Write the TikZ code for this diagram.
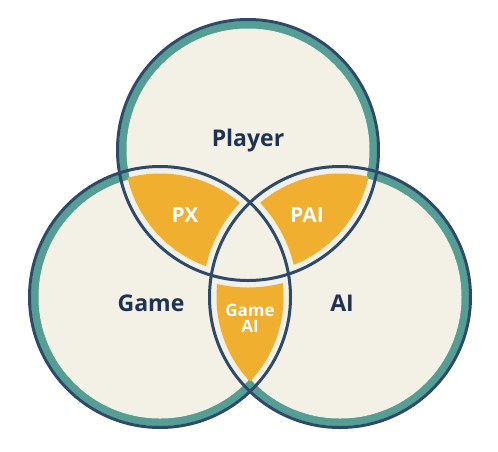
\documentclass[tikz,border=0pt]{standalone}
\usepackage{fontspec}
\setmainfont{Open Sans}
\definecolor{beige}{HTML}{F3F0E6}
\definecolor{teal2}{HTML}{559E94}
\definecolor{navy}{HTML}{2E4A6B}
\definecolor{orng}{HTML}{F0AF2E}
\definecolor{txtnavy}{HTML}{1E3352}
\begin{document}
\begin{tikzpicture}[x=1pt,y=-1pt,
  lbl/.style={font=\bfseries\fontsize{23}{26}\selectfont, text=txtnavy},
  olbl/.style={font=\bfseries\fontsize{21}{24}\selectfont, text=white},
  slbl/.style={font=\bfseries\fontsize{17}{20}\selectfont, text=white, align=center}]
\useasboundingbox (0,0) rectangle (498,451);
\def\R{130.5}
\def\G{7}
\coordinate (T) at (248,150);
\coordinate (L) at (160,297);
\coordinate (Rc) at (340,297);
% teal rings
\foreach \c in {T,L,Rc} \draw[teal2, line width=8pt] (\c) circle (\R-5.3);
% inner beige
\foreach \c in {T,L,Rc} \fill[beige] (\c) circle (\R-9);
% orange lenses
\begin{scope}
  \clip (T) circle (\R-\G); \clip (L) circle (\R-\G);
  \fill[orng, even odd rule] (0,0) rectangle (498,451) (Rc) circle (\R+\G);
\end{scope}
\begin{scope}
  \clip (T) circle (\R-\G); \clip (Rc) circle (\R-\G);
  \fill[orng, even odd rule] (0,0) rectangle (498,451) (L) circle (\R+\G);
\end{scope}
\begin{scope}
  \clip (L) circle (\R-\G); \clip (Rc) circle (\R-\G);
  \fill[orng, even odd rule] (0,0) rectangle (498,451) (T) circle (\R+\G);
\end{scope}
% navy outlines
\foreach \c in {T,L,Rc} \draw[navy, line width=3pt] (\c) circle (\R);
% labels
\node[lbl] (player) at (248,141) {Player};
\node[lbl] (game) at (151,303) {Game};
\node[lbl] (ai) at (342,303) {AI};
\node[olbl] (px) at (185,215) {PX};
\node[olbl] (pai) at (307,215) {PAI};
\node[slbl] (gameai) at (250,318) {Game\\[-4pt]AI};
\end{tikzpicture}
\end{document}
